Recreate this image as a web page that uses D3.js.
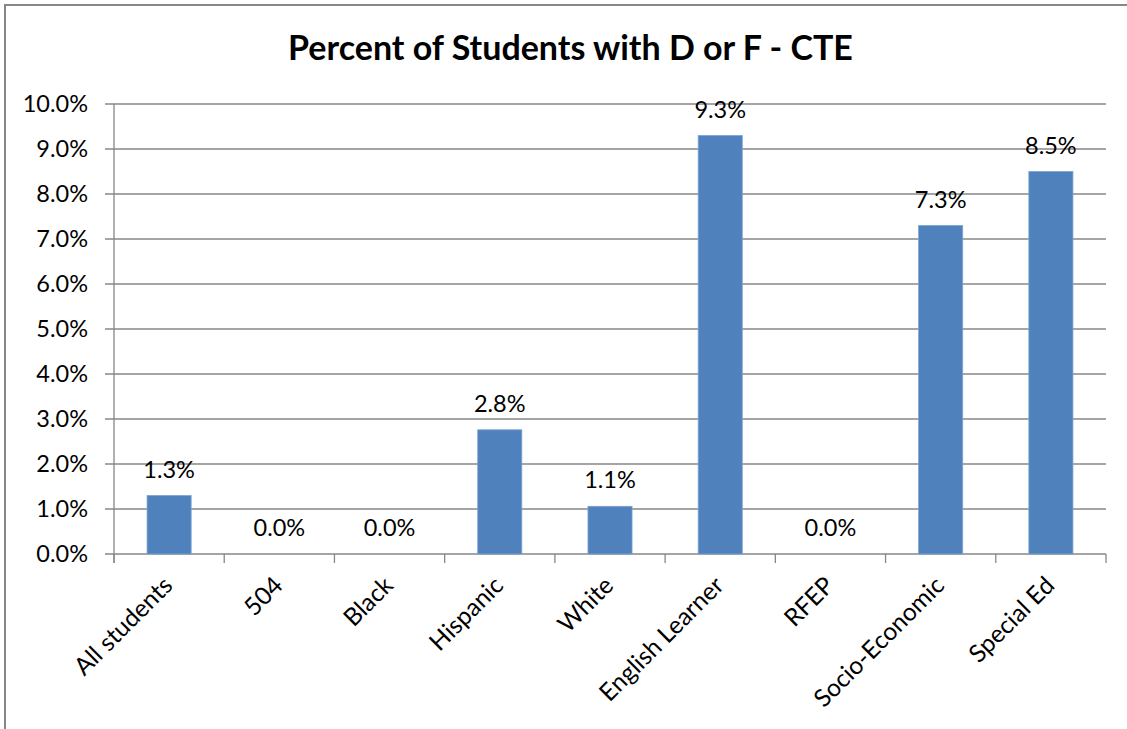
<!DOCTYPE html>
<html><head><meta charset="utf-8">
<script src="https://cdn.jsdelivr.net/npm/d3@7"></script>
<style>body{margin:0;background:#fff;} svg{display:block;}</style>
</head><body>
<svg id="c" width="1127" height="729"></svg>
<script>
const categories = ["All students","504","Black","Hispanic","White","English Learner","RFEP","Socio-Economic","Special Ed"];
const values = [1.3, 0.0, 0.0, 2.76, 1.06, 9.3, 0.0, 7.3, 8.5];
const yTicks = [0,1,2,3,4,5,6,7,8,9,10];
const title = "Percent of Students with D or F - CTE";

const svg = d3.select("#c");
const font = "Lato, 'Open Sans', sans-serif";
const grey = "#878787";
const L = 114, R = 1106, T = 104, B = 554;
const fs = 23.5;

svg.append("rect").attr("x",5).attr("y",5).attr("width",1140).attr("height",740)
  .attr("fill","#fff").attr("stroke",grey).attr("stroke-width",2);

svg.append("text").attr("x",570.5).attr("y",60).attr("text-anchor","middle")
  .attr("font-family",font).attr("font-weight","bold").attr("font-size",34)
  .attr("fill","#000").text(title);

const x = d3.scaleBand().domain(categories).range([L,R]).paddingInner(0.6).paddingOuter(0.3);
const y = d3.scaleLinear().domain([0,10]).range([B,T]);

svg.append("g").selectAll("line").data(yTicks).join("line")
  .attr("x1",L-9).attr("x2",R).attr("y1",d=>y(d)).attr("y2",d=>y(d))
  .attr("stroke",grey).attr("stroke-width",1.3);
svg.append("line").attr("x1",L).attr("x2",L).attr("y1",T).attr("y2",B+9).attr("stroke",grey).attr("stroke-width",1.3);
svg.append("g").selectAll("text").data(yTicks).join("text")
  .attr("x",88).attr("y",d=>y(d)).attr("dy","0.35em").attr("text-anchor","end")
  .attr("font-family",font).attr("font-size",fs).attr("fill","#000")
  .text(d=>d.toFixed(1)+"%");
const bounds = d3.range(categories.length+1).map(i=>L+i*(R-L)/categories.length);
svg.append("g").selectAll("line").data(bounds).join("line")
  .attr("x1",d=>d).attr("x2",d=>d).attr("y1",B).attr("y2",B+9)
  .attr("stroke",grey).attr("stroke-width",1.3);

svg.append("g").selectAll("rect").data(values).join("rect")
  .attr("x",(d,i)=>x(categories[i])).attr("width",x.bandwidth())
  .attr("y",d=>y(d)).attr("height",d=>B-y(d))
  .attr("fill","#4F81BD").attr("stroke","#7da3d3").attr("stroke-width",0.8);

svg.append("g").selectAll("text").data(values).join("text")
  .attr("x",(d,i)=>x(categories[i])+x.bandwidth()/2).attr("y",d=>y(d)-18)
  .attr("text-anchor","middle").attr("font-family",font).attr("font-size",fs).attr("fill","#000")
  .text(d=>d.toFixed(1)+"%");

svg.append("g").selectAll("text").data(categories).join("text")
  .attr("transform",d=>`translate(${x(d)+x.bandwidth()/2+5},${B+33}) rotate(-45)`)
  .attr("text-anchor","end")
  .attr("font-family",font).attr("font-size",24.5).attr("fill","#000")
  .text(d=>d);
</script>
</body></html>
